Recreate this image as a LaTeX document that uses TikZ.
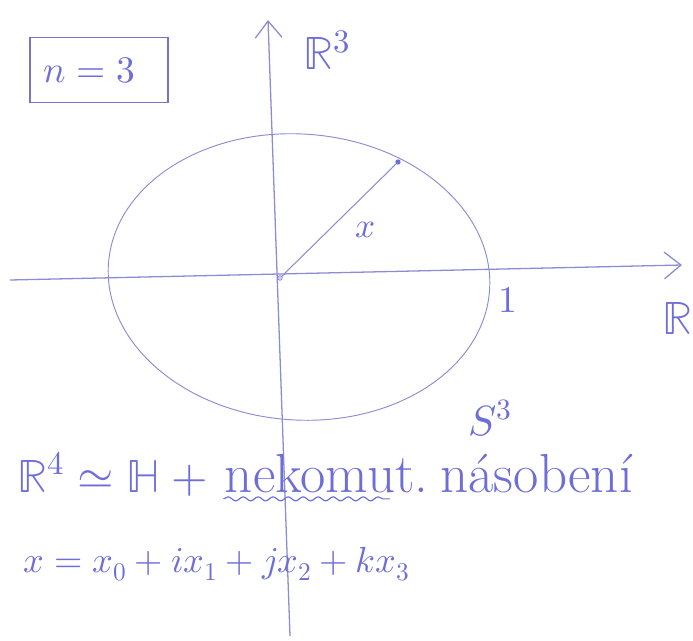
\documentclass[tikz,border=0pt]{standalone}
\usepackage{amsmath}
\usepackage{unicode-math}
\usepackage{tikz}
\usetikzlibrary{arrows.meta,positioning,shapes.geometric,decorations.pathmorphing}
\definecolor{penInk}{HTML}{6E6ED8}
\definecolor{penLine}{HTML}{8C8CD2}
\definecolor{penBox}{HTML}{7A72C8}

\begin{document}
\begin{tikzpicture}[
    x=0.3mm, y=-0.3mm,
    axis/.style={draw=penLine, line width=1.1pt,
                 -{Straight Barb[length=5mm, width=8mm]}},
    ink/.style={text=penInk, font=\fontsize{#1}{#1}\selectfont, inner sep=1pt},
    ink/.default=34,
    words/.style={ink=#1, font=\fontsize{#1}{#1}\selectfont\addfontfeatures{LetterSpace=11}},
  ]
  \useasboundingbox (0,0) rectangle (693,640);

  % --- axes ---
  \coordinate (yb) at (290,636);
  \coordinate (yt) at (268,20);
  \coordinate (xl) at (10,280);
  \coordinate (xr) at (682,265);
  \draw[axis] (yb) -- (yt);
  \draw[axis] (xl) -- (xr);

  % --- sphere ---
  \node[ellipse, draw=penLine, line width=0.8pt, inner sep=0pt,
        minimum width=114.6mm, minimum height=85.8mm, rotate=-4]
    (sph) at (299,277) {};

  % --- radius vector ---
  \coordinate (orig) at (280,278);
  \node[circle, fill=penInk, inner sep=0pt, minimum size=1.6mm] (pt) at (398,162) {};
  \draw[penLine, line width=0.9pt] (orig) -- (pt);
  \node[circle, draw=penInk, fill=penLine!40, inner sep=0pt, minimum size=1.4mm] (o) at (orig) {};

  % --- labels ---
  \node[ink=30] (xlab) at (366,230) {$x$};
  \node[ink=32] (one) at (508,300) {$1$};
  \node[ink=40] (r3) at (327,50) {$\mathbb{R}^3$};
  \node[ink=40, anchor=east] (r1) at (694,318) {$\mathbb{R}$};
  \node[ink=36] (s3) at (490,418) {$S^3$};

  % --- box ---
  \node[draw=penBox, line width=1.2pt, minimum width=41.4mm, minimum height=19.5mm,
        ink=32, text width=36mm, align=left] (dim) at (99,70) {\hspace*{1.5mm}$n = 3$};

  % --- quaternions ---
  \node[ink=40, anchor=base west] (iso) at (16,492)
    {$\mathbb{R}^4 \simeq \mathbb{H} + {}$};
  \node[words=47, base right=0.35em of iso] (nekom) {nekomut.};
  \node[words=47, base right=0.8em of nekom] (nasob) {násobení};
  \draw[penInk, line width=1pt, decorate,
        decoration={snake, amplitude=0.6mm, segment length=4.5mm}]
    ([yshift=-1.5mm]nekom.south west) -- ([yshift=-1.5mm, xshift=-12mm]nekom.south east);

  \node[ink=31, anchor=base west] (quat) at (22,572)
    {$x = x_0 + i x_1 + j x_2 + k x_3$};

\end{tikzpicture}
\end{document}
